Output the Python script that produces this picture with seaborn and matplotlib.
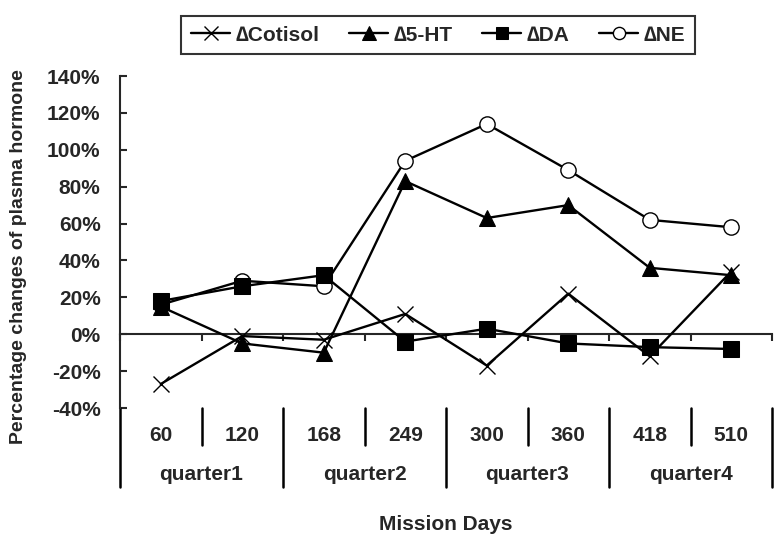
import numpy as np
import pandas as pd
import matplotlib
matplotlib.use("Agg")
import matplotlib.pyplot as plt
import seaborn as sns

# data (percent)
days = ["60", "120", "168", "249", "300", "360", "418", "510"]
quarters = ["quarter1", "quarter2", "quarter3", "quarter4"]
cotisol = [-27, -1, -3, 11, -17, 22, -12, 34]
ht5 = [15, -5, -10, 83, 63, 70, 36, 32]
da = [18, 26, 32, -4, 3, -5, -7, -8]
ne = [16, 29, 26, 94, 114, 89, 62, 58]

sns.set_style("white")
plt.rcParams['font.family'] = ['Liberation Sans', 'DejaVu Sans']
plt.rcParams['font.weight'] = 'bold'
fs = 15

fig = plt.figure(figsize=(7.8, 5.45), dpi=100)
ax = fig.add_axes([120/780, 137/545, 652/780, 332/545])

pos = np.arange(len(days))
lw = 1.7
# NE drawn first so the other markers sit on top of it
sns.lineplot(x=pos, y=ne, ax=ax, color="black", lw=lw, marker="o", markersize=11,
             markerfacecolor="white", markeredgecolor="black", markeredgewidth=1.0,
             label="\u2206NE", zorder=3)
sns.lineplot(x=pos, y=ht5, ax=ax, color="black", lw=lw, marker="^", markersize=12,
             markeredgecolor="black", label="\u22065-HT", zorder=4)
sns.lineplot(x=pos, y=cotisol, ax=ax, color="black", lw=lw, marker="x", markersize=12,
             markeredgecolor="black", markeredgewidth=1.0,
             label="\u2206Cotisol", zorder=5)
sns.lineplot(x=pos, y=da, ax=ax, color="black", lw=lw, marker="s", markersize=11,
             markeredgecolor="black", label="\u2206DA", zorder=6)

ax.set_xlim(-0.5, len(days) - 0.5)
ax.set_ylim(-40, 140)
ax.set_yticks(np.arange(-40, 141, 20))
ax.set_yticklabels([f"{v}%" for v in range(-40, 141, 20)], fontsize=fs, fontweight="bold")
ax.tick_params(axis="y", direction="in", length=5, width=1.5, pad=14, left=True)

# category axis crossing at zero
for s in ["top", "right"]:
    ax.spines[s].set_visible(False)
ax.spines["left"].set_linewidth(1.5)
ax.spines["bottom"].set_position(("data", 0))
ax.spines["bottom"].set_linewidth(1.5)
ax.set_xticks(np.arange(-0.5, len(days), 1.0))
ax.set_xticklabels([])
ax.tick_params(axis="x", direction="out", length=5, width=1.5, bottom=True)

# multi-level category labels below the plot
tr = ax.get_xaxis_transform()
for i, d in enumerate(days):
    ax.text(i, -0.083, d, transform=tr, ha="center", va="center",
            fontsize=fs, fontweight="bold")
for i in range(0, len(days) - 1, 2):
    ax.plot([i + 0.5, i + 0.5], [0, -0.111], transform=tr, color="black",
            lw=1.8, clip_on=False)
for q in range(len(quarters) + 1):
    x = q * 2 - 0.5
    ax.plot([x, x], [0, -0.238], transform=tr, color="black", lw=1.8, clip_on=False)
for q, name in enumerate(quarters):
    ax.text(q * 2 + 0.5, -0.2, name, transform=tr, ha="center", va="center",
            fontsize=fs, fontweight="bold")

ax.set_xlabel("")
ax.set_ylabel("")
fig.text(446/780, 1 - 524/545, "Mission Days", ha="center", va="center",
         fontsize=fs, fontweight="bold")
fig.text(19/780, 1 - 257/545, "Percentage changes of plasma hormone", rotation=90,
         ha="center", va="center", fontsize=14, fontweight="bold")

handles, labels = ax.get_legend_handles_labels()
order = [2, 1, 3, 0]
leg = fig.legend([handles[i] for i in order], [labels[i] for i in order],
                 loc="upper center", bbox_to_anchor=(438/780, 1 - 6/545), ncol=4,
                 frameon=True, fancybox=False, edgecolor="black",
                 handlelength=1.9, handletextpad=0.25, columnspacing=1.4,
                 borderpad=0.45, markerscale=0.8, prop={"weight": "bold", "size": fs})
leg.get_frame().set_linewidth(1.5)
ax.get_legend().remove()

fig.savefig("out.png", dpi=100)
